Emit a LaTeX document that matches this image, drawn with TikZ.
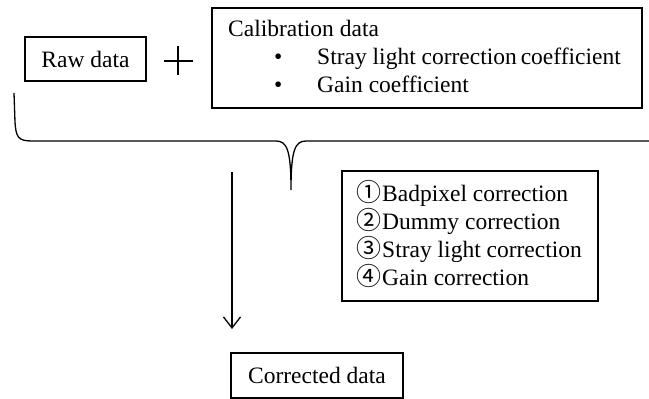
\documentclass[tikz,border=0pt]{standalone}
\usepackage{fontspec}
\setmainfont{Liberation Serif}
\newfontfamily\circfont{Noto Sans CJK JP}
\usetikzlibrary{arrows.meta}
\tikzset{
  boxnode/.style={draw, line width=1.4pt, inner sep=0pt, font=\fontsize{23.5}{28.5}\selectfont},
  txt/.style={inner sep=0pt, anchor=base west, font=\fontsize{23.5}{28.5}\selectfont},
  circ/.style={inner sep=0pt, anchor=base, font=\circfont\fontsize{25}{28}\selectfont},
  thinline/.style={line width=1.3pt},
}
\begin{document}
\begin{tikzpicture}[x=1pt,y=-1pt]
\useasboundingbox (0,0) rectangle (649,399);
% Raw data
\node[boxnode, minimum width=121pt, minimum height=44pt] (raw) at (85.5,59) {Raw data};
% plus sign
\coordinate (pl) at (164,61);
\coordinate (pr) at (193,61);
\coordinate (pt) at (178,46);
\coordinate (pb) at (178,75);
\draw[line width=2.7pt] (pl) -- (pr);
\draw[line width=2.7pt] (pt) -- (pb);
% Calibration data
\node[boxnode, minimum width=430pt, minimum height=100pt] (calib) at (427,58) {};
\node[txt] (c1) at (228,36.5) {Calibration data};
\node[txt] (b1) at (274,64) {•};
\node[txt] (c2) at (317,64) {Stray light correction\hspace{-2pt} coefficient};
\node[txt] (b2) at (274,92) {•};
\node[txt] (c3) at (317,92) {Gain coefficient};
% brace
\coordinate (bl) at (14,93);
\coordinate (btip) at (291,190);
\coordinate (br) at (649,141);
\draw[thinline] (bl) -- (15,122) .. controls (16,137) and (18,141) .. (32,141)
  -- (276,141) .. controls (287,141) and (291,150) .. (btip)
  .. controls (291,150) and (295,141) .. (306,141) -- (br);
% steps
\node[boxnode, minimum width=256pt, minimum height=130pt] (steps) at (470,236) {};
\node[circ] (n1) at (369,201) {①};
\node[txt]  (s1) at (382,201) {Badpixel correction};
\node[circ] (n2) at (369,229.5) {②};
\node[txt]  (s2) at (382,229.5) {Dummy correction};
\node[circ] (n3) at (369,257.5) {③};
\node[txt]  (s3) at (382,257.5) {Stray light correction};
\node[circ] (n4) at (369,285) {④};
\node[txt]  (s4) at (382,285) {Gain correction};
% corrected
\node[boxnode, minimum width=172pt, minimum height=45pt] (corr) at (317,375.5) {Corrected data};
% arrow
\coordinate (as) at (232,172);
\coordinate (ae) at (232,329);
\draw[thinline, -{Straight Barb[length=11pt,width=17pt,line width=1.3pt]}] (as) -- (ae);
\end{tikzpicture}
\end{document}
